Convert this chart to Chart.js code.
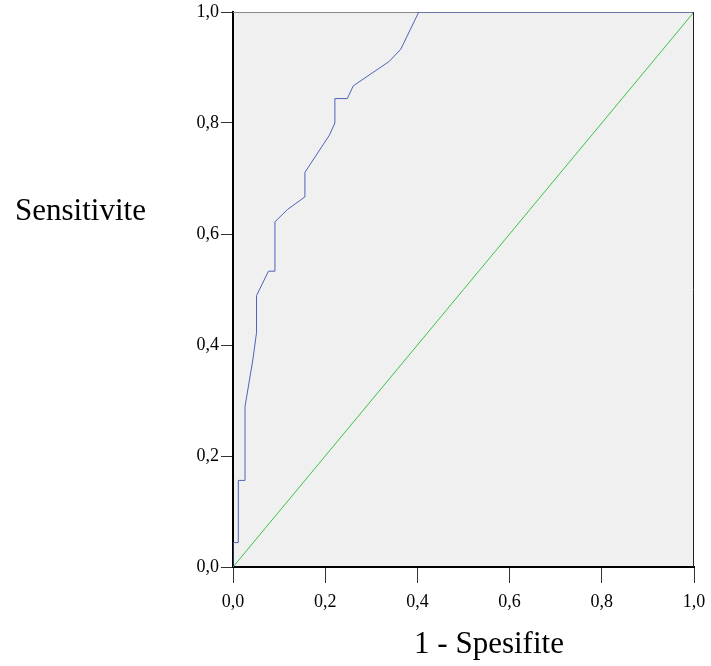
<!DOCTYPE html>
<html>
<head>
<meta charset="utf-8">
<script src="https://cdn.jsdelivr.net/npm/chart.js@4"></script>
<style>
  html, body { margin: 0; padding: 0; background: #fff; }
  #wrap { width: 711px; height: 666px; }
</style>
</head>
<body>
<div id="wrap"><canvas id="roc" width="711" height="666"></canvas></div>
<script>
// ROC egrisi - degerler gorselden okundu
const fpr = [0, 0, 0.0115, 0.0115, 0.026, 0.026, 0.043, 0.051, 0.051, 0.077, 0.091, 0.091, 0.118, 0.156, 0.156, 0.209, 0.221, 0.221, 0.248, 0.261, 0.339, 0.364, 0.403, 1];
const tpr = [0, 0.044, 0.044, 0.156, 0.156, 0.289, 0.373, 0.422, 0.489, 0.533, 0.533, 0.622, 0.644, 0.667, 0.711, 0.778, 0.8, 0.844, 0.844, 0.867, 0.911, 0.933, 1, 1];
const refX = [0, 1];
const refY = [0, 1];
const tickValues = [0, 0.2, 0.4, 0.6, 0.8, 1.0];

const fmt = v => v.toFixed(1).replace('.', ',');
const serif = '"Liberation Serif", "Times New Roman", serif';

const frame = {
  id: 'frame',
  beforeDraw(chart) {
    const { ctx, chartArea: a } = chart;
    ctx.save();
    ctx.fillStyle = '#f0f0f0';
    ctx.fillRect(a.left, a.top, a.right - a.left, a.bottom - a.top);
    ctx.restore();
  },
  afterDraw(chart) {
    const { ctx, chartArea: a } = chart;
    ctx.save();
    ctx.lineWidth = 1;
    ctx.strokeStyle = '#222';
    ctx.beginPath();
    ctx.moveTo(a.right - 0.5, a.top);
    ctx.lineTo(a.right - 0.5, a.bottom);
    ctx.stroke();
    ctx.fillStyle = '#000';
    ctx.font = '31px ' + serif;
    ctx.textBaseline = 'alphabetic';
    ctx.textAlign = 'left';
    ctx.fillText('Sensitivite', 15, 220);
    ctx.textAlign = 'center';
    ctx.fillText('1 - Spesifite', 489, 653);
    ctx.restore();
  },
  beforeDatasetsDraw(chart) {
    const { ctx, chartArea: a } = chart;
    ctx.save();
    ctx.strokeStyle = '#888';
    ctx.lineWidth = 1;
    ctx.beginPath();
    ctx.moveTo(a.left, a.top + 0.5);
    ctx.lineTo(a.right, a.top + 0.5);
    ctx.stroke();
    ctx.restore();
  }
};

new Chart(document.getElementById('roc'), {
  type: 'scatter',
  data: {
    datasets: [
      {
        data: fpr.map((x, i) => ({ x: x, y: tpr[i] })),
        showLine: true,
        borderColor: '#4f63b8',
        borderWidth: 1,
        pointRadius: 0,
        tension: 0
      },
      {
        data: refX.map((x, i) => ({ x: x, y: refY[i] })),
        showLine: true,
        borderColor: '#3cc04a',
        borderWidth: 1,
        pointRadius: 0
      }
    ]
  },
  options: {
    responsive: false,
    animation: false,
    devicePixelRatio: 1,
    layout: { padding: { top: 12, right: 17, left: 0, bottom: 0 } },
    plugins: { legend: { display: false }, tooltip: { enabled: false } },
    scales: {
      x: {
        type: 'linear', min: 0, max: 1,
        afterBuildTicks: s => { s.ticks = tickValues.map(v => ({ value: v })); },
        afterFit: s => { s.height = 99; s.paddingLeft = 0; s.paddingRight = 0; },
        border: { display: true, color: '#000', width: 2 },
        grid: { drawOnChartArea: false, drawTicks: true, tickLength: 16, color: '#333' },
        ticks: { callback: fmt, color: '#000', padding: 8, font: { family: serif, size: 18 }, maxRotation: 0 }
      },
      y: {
        type: 'linear', min: 0, max: 1,
        afterBuildTicks: s => { s.ticks = tickValues.map(v => ({ value: v })); },
        afterFit: s => { s.width = 233; s.paddingTop = 0; s.paddingBottom = 0; },
        border: { display: true, color: '#000', width: 2 },
        grid: { drawOnChartArea: false, drawTicks: true, tickLength: 12, color: '#333' },
        ticks: { callback: fmt, color: '#000', padding: 2, font: { family: serif, size: 18 } }
      }
    }
  },
  plugins: [frame]
});
</script>
</body>
</html>
